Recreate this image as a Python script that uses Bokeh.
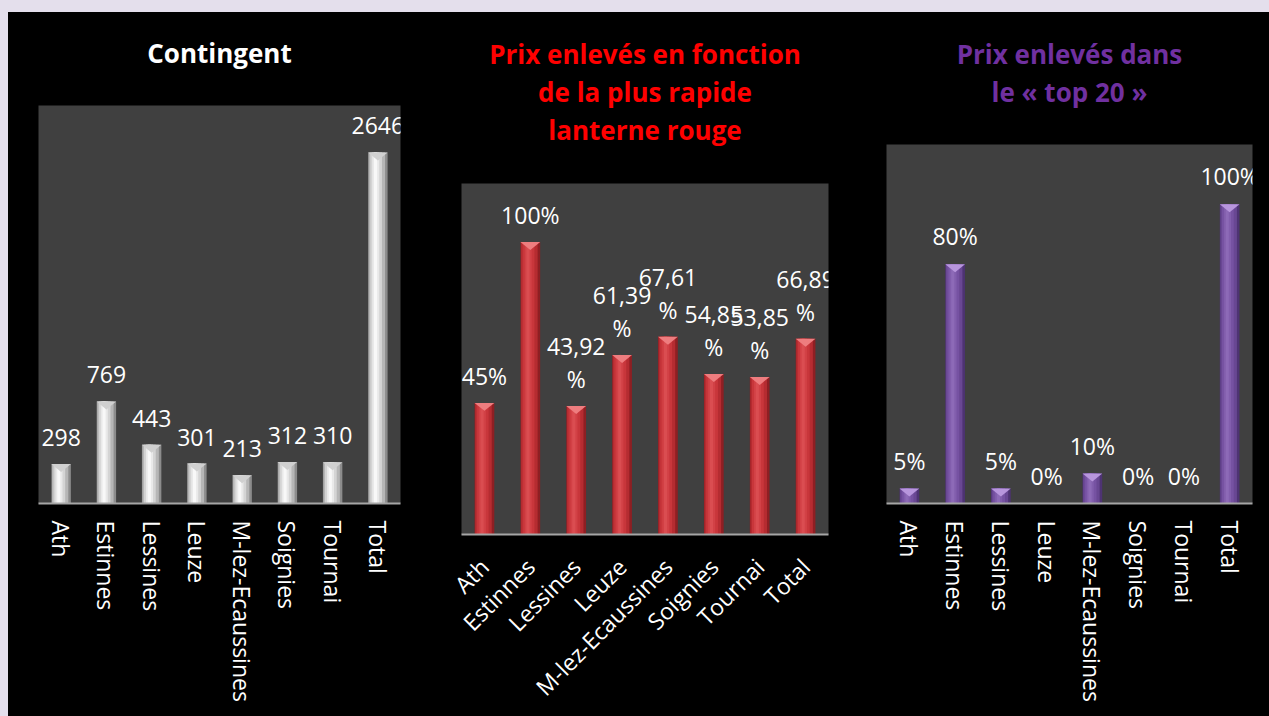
import math
from bokeh.plotting import figure
from bokeh.layouts import row, column
from bokeh.models import (ColumnDataSource, FixedTicker, Range1d, Title,
                          LabelSet, GlobalInlineStyleSheet)
from bokeh.transform import dodge
from bokeh.core.properties import value
from bokeh.embed import file_html
from bokeh.resources import INLINE

# ---------------- data ----------------
categories = ["Ath", "Estinnes", "Lessines", "Leuze", "M-lez-Ecaussines",
              "Soignies", "Tournai", "Total"]
contingent = [298, 769, 443, 301, 213, 312, 310, 2646]
prix_lanterne = [45, 100, 43.92, 61.39, 67.61, 54.85, 53.85, 66.89]
prix_top20 = [5, 80, 5, 0, 10, 0, 0, 100]

title1 = ["Contingent"]
title2 = ["Prix enlevés en fonction", "de la plus rapide", "lanterne rouge"]
title3 = ["Prix enlevés dans", "le « top 20 »"]


def fmt_pct(v):
    if float(v).is_integer():
        return f"{int(v)}%"
    return f"{v:.2f}".replace(".", ",") + "\n%"


labels1 = [str(v) for v in contingent]
labels2 = [fmt_pct(v) for v in prix_lanterne]
labels3 = [f"{v}%" for v in prix_top20]

FONT = "Open Sans"
LINE_GAP = 40      # px between wrapped label lines


def make_panel(vals, labels, ymax, title_lines, title_color, width, height,
               bl, br, bt, bb, shades, cap_color, orient, lab_standoff,
               title_gap, label_off):
    frame_h = height - bt - bb
    n = len(vals)
    p = figure(width=width, height=height, output_backend="svg",
               toolbar_location=None,
               x_range=Range1d(-0.5, n - 0.5),
               y_range=Range1d(0, ymax),
               min_border_left=bl, min_border_right=br,
               min_border_top=bt, min_border_bottom=bb)
    p.background_fill_color = "#404040"
    p.border_fill_color = "black"
    p.outline_line_color = None
    p.xgrid.visible = False
    p.ygrid.visible = False
    p.yaxis.visible = False
    p.title.visible = False

    # invisible spacer between plot area and title block
    p.add_layout(Title(text=" ", text_font_size="1px", text_color="black",
                       standoff=title_gap), "above")
    # title lines (added closest-first), each centred
    for line in reversed(title_lines):
        p.add_layout(Title(text=line, align="center", text_color=title_color,
                           text_font=FONT, text_font_style="bold",
                           text_font_size="26px", standoff=0), "above")

    ax = p.xaxis[0]
    ax.ticker = FixedTicker(ticks=list(range(n)))
    ax.major_label_overrides = {i: c for i, c in enumerate(categories)}
    ax.major_label_orientation = orient
    ax.major_label_text_color = "white"
    ax.major_label_text_font = FONT
    ax.major_label_text_font_size = "23px"
    ax.major_label_standoff = lab_standoff
    ax.major_tick_line_color = None
    ax.minor_tick_line_color = None
    ax.major_tick_out = 0
    ax.major_tick_in = 0
    ax.minor_tick_out = 0
    ax.axis_line_color = "#A6A6A6"
    ax.axis_line_width = 2

    w = 0.43
    parts = [lab.split("\n") for lab in labels]
    line1 = [pp[0] for pp in parts]
    line2 = [pp[1] if len(pp) > 1 else "" for pp in parts]
    off1 = [label_off + (LINE_GAP if len(pp) > 1 else 0) for pp in parts]
    src = ColumnDataSource(dict(x=list(range(n)), top=vals,
                                line1=line1, line2=line2, off1=off1))
    layers = [(1.00, 0.00), (0.84, -0.05), (0.60, -0.09),
              (0.36, -0.11), (0.16, -0.12)]
    for (wf, off), col in zip(layers, shades):
        p.vbar(x=dodge("x", off * w, range=p.x_range), top="top",
               bottom=0, width=wf * w, source=src, fill_color=col,
               line_color=None)

    # pyramid-like top caps
    d = 8 * ymax / frame_h
    xs, ys = [], []
    for i, v in enumerate(vals):
        if v > d:
            xs.append([i - w / 2, i + w / 2, i])
            ys.append([v, v, v - d])
    p.patches(xs, ys, fill_color=cap_color, line_color=None)

    common = dict(x="x", y="top", source=src, text_color="white",
                  text_font=value(FONT), text_font_size="23px",
                  text_align="center", text_baseline="bottom")
    ls2 = LabelSet(text="line2", y_offset=label_off, **common)
    ls1 = LabelSet(text="line1", y_offset="off1", **common)
    for ls in (ls2, ls1):
        if "clip" in ls.properties():
            ls.clip = False
        p.add_layout(ls)
    return p


white_shades = ["#8c8c8c", "#b6b6b6", "#d4d4d4", "#e9e9e9", "#f8f8f8"]
red_shades = ["#8e1f23", "#b52c31", "#c8363b", "#d24146", "#da4d51"]
purple_shades = ["#4e3373", "#694793", "#7652a2", "#825ead", "#8d6ab7"]

p1 = make_panel(contingent, labels1, 3000, title1, "white",
                412, 704, 30, 20, 93, 213, white_shades, "#d0d0d0",
                "vertical", 17, 32, 18)
p2 = make_panel(prix_lanterne, labels2, 120, title2, "#FF0000",
                440, 704, 41, 32, 171, 181, red_shades, "#ee7d7f",
                math.pi / 4, 28, 33, 11)
p3 = make_panel(prix_top20, labels3, 120, title3, "#7030A0",
                409, 704, 26, 17, 132, 213, purple_shades, "#b896dd",
                "vertical", 17, 32, 12)

layout = row(column(p1), column(p2), column(p3), spacing=0)
layout.styles = {"background-color": "black"}
layout.stylesheets = [GlobalInlineStyleSheet(
    css="body{margin:12px 0 0 8px;background:#E4DFEC;overflow:hidden;}")]

open("out.html", "w").write(file_html(layout, INLINE))
